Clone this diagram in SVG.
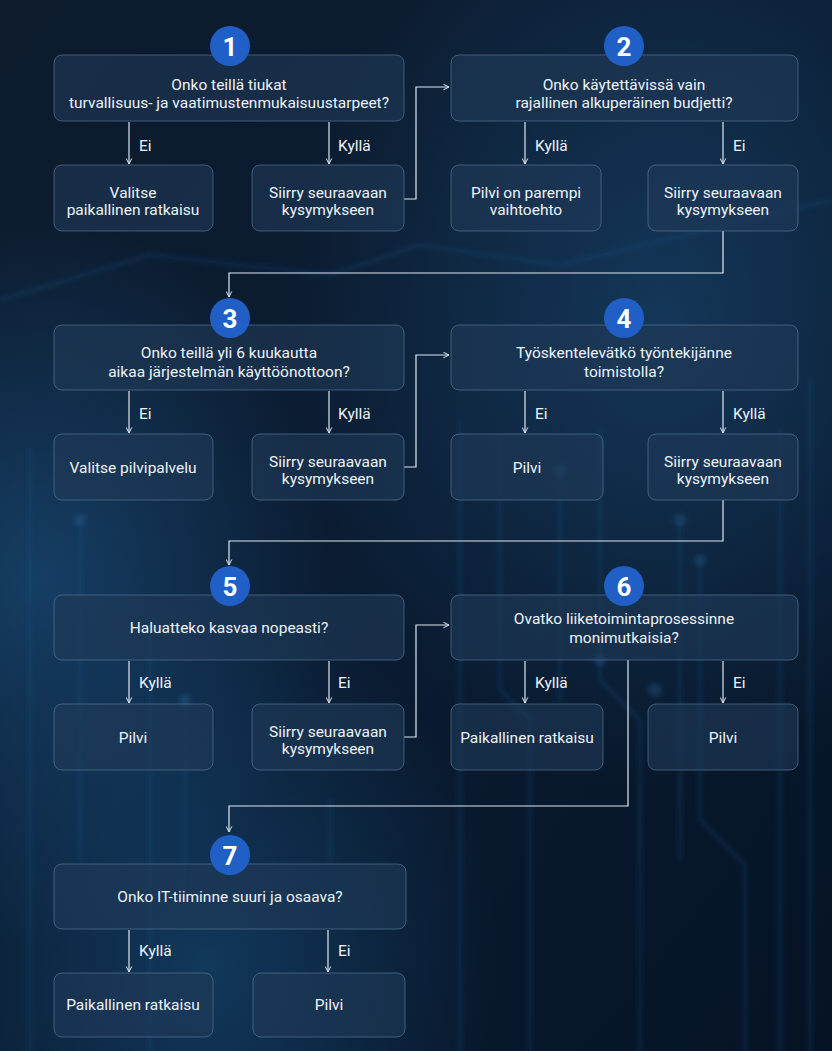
<svg xmlns="http://www.w3.org/2000/svg" width="832" height="1051" viewBox="0 0 832 1051">
<defs>
<linearGradient id="bg" x1="0" y1="0" x2="1" y2="1">
<stop offset="0" stop-color="#0d1b2d"/>
<stop offset="0.5" stop-color="#0a1c32"/>
<stop offset="1" stop-color="#061325"/>
</linearGradient>
<radialGradient id="glow1" cx="0.8" cy="0.3" r="0.45">
<stop offset="0" stop-color="#1d4d78" stop-opacity="0.55"/>
<stop offset="1" stop-color="#1d4d78" stop-opacity="0"/>
</radialGradient>
<radialGradient id="glow2" cx="0.05" cy="0.55" r="0.35">
<stop offset="0" stop-color="#1e5a8e" stop-opacity="0.55"/>
<stop offset="1" stop-color="#1e5a8e" stop-opacity="0"/>
</radialGradient>
<radialGradient id="glow3" cx="0.25" cy="0.92" r="0.35">
<stop offset="0" stop-color="#1a5586" stop-opacity="0.5"/>
<stop offset="1" stop-color="#1a5586" stop-opacity="0"/>
</radialGradient>
<filter id="blur" x="-10%" y="-10%" width="120%" height="120%">
<feGaussianBlur stdDeviation="2.5"/>
</filter>
<marker id="ah" viewBox="0 0 10 10" refX="9" refY="5" markerWidth="7" markerHeight="7" orient="auto-start-reverse" markerUnits="userSpaceOnUse">
<path d="M1,1 L9,5 L1,9" fill="none" stroke="#dfe8f2" stroke-width="1.4"/>
</marker>
<style>
.box{fill:#1f3a58;fill-opacity:0.6;stroke:#5a7898;stroke-opacity:0.65;stroke-width:1}
.t{font-family:Roboto,"Noto Sans",sans-serif;font-size:15.5px;fill:#eef3f8;text-anchor:middle}
.lbl{font-family:Roboto,"Noto Sans",sans-serif;font-size:15.5px;fill:#eef3f8}
.num{font-family:Roboto,"Noto Sans",sans-serif;font-size:26px;font-weight:bold;fill:#ffffff;text-anchor:middle}
.circ{fill:#1f5fc6}
.c{fill:none;stroke:#dfe8f2;stroke-width:1.2}
.deco{fill:none;stroke:#1f5282;stroke-opacity:0.28;stroke-width:4;stroke-linejoin:round;stroke-linecap:round}
.dot{fill:#2a6aa0;fill-opacity:0.3}
</style>
</defs>
<rect width="832" height="1051" fill="url(#bg)"/>
<rect width="832" height="1051" fill="url(#glow1)"/>
<rect width="832" height="1051" fill="url(#glow2)"/>
<rect width="832" height="1051" fill="url(#glow3)"/>
<g id="decor" filter="url(#blur)">
<path class="deco" d="M0,300 L150,255 L330,275 L420,245 L560,265 L832,200"/>
<path class="deco" d="M460,420 L460,1051 M500,440 L500,690 L530,720 L530,1051 M560,470 L560,700 M600,430 L600,680 L640,720 L640,1051 M680,520 L680,860 M700,560 L700,820 L745,865 L745,1051 M780,430 L780,1051 M810,380 L810,1051"/>
<path class="deco" d="M30,450 L30,1051 M80,520 L80,860 M150,620 L150,1051 M185,700 L185,900 M330,800 L330,860"/>
<circle class="dot" cx="560" cy="470" r="6"/>
<circle class="dot" cx="680" cy="520" r="6"/>
<circle class="dot" cx="700" cy="560" r="6"/>
<circle class="dot" cx="655" cy="690" r="7"/>
<circle class="dot" cx="600" cy="660" r="6"/>
<circle class="dot" cx="80" cy="520" r="6"/>
<circle class="dot" cx="185" cy="700" r="6"/>
</g>
<g id="connectors">
<line class="c" x1="129" y1="122" x2="129" y2="164" marker-end="url(#ah)"/>
<line class="c" x1="329" y1="122" x2="329" y2="164" marker-end="url(#ah)"/>
<line class="c" x1="525" y1="122" x2="525" y2="164" marker-end="url(#ah)"/>
<line class="c" x1="723" y1="122" x2="723" y2="164" marker-end="url(#ah)"/>
<polyline class="c" points="404,199 416,199 416,87 449,87" marker-end="url(#ah)"/>
<polyline class="c" points="723,231 723,273 229,273 229,297" marker-end="url(#ah)"/>
<line class="c" x1="129" y1="391" x2="129" y2="433" marker-end="url(#ah)"/>
<line class="c" x1="329" y1="391" x2="329" y2="433" marker-end="url(#ah)"/>
<line class="c" x1="525" y1="391" x2="525" y2="433" marker-end="url(#ah)"/>
<line class="c" x1="723" y1="391" x2="723" y2="433" marker-end="url(#ah)"/>
<polyline class="c" points="404,467 416,467 416,355 449,355" marker-end="url(#ah)"/>
<polyline class="c" points="723,500 723,541 229,541 229,565" marker-end="url(#ah)"/>
<line class="c" x1="129" y1="661" x2="129" y2="703" marker-end="url(#ah)"/>
<line class="c" x1="329" y1="661" x2="329" y2="703" marker-end="url(#ah)"/>
<line class="c" x1="525" y1="661" x2="525" y2="703" marker-end="url(#ah)"/>
<line class="c" x1="723" y1="661" x2="723" y2="703" marker-end="url(#ah)"/>
<polyline class="c" points="404,737 416,737 416,625 449,625" marker-end="url(#ah)"/>
<polyline class="c" points="628,660 628,806 229,806 229,832" marker-end="url(#ah)"/>
<line class="c" x1="129" y1="930" x2="129" y2="972" marker-end="url(#ah)"/>
<line class="c" x1="328" y1="930" x2="328" y2="972" marker-end="url(#ah)"/>
</g>
<g id="labels">
<text class="lbl" x="139" y="151">Ei</text>
<text class="lbl" x="338" y="151">Kyllä</text>
<text class="lbl" x="535" y="151">Kyllä</text>
<text class="lbl" x="733" y="151">Ei</text>
<text class="lbl" x="139" y="419">Ei</text>
<text class="lbl" x="338" y="419">Kyllä</text>
<text class="lbl" x="535" y="419">Ei</text>
<text class="lbl" x="733" y="419">Kyllä</text>
<text class="lbl" x="139" y="688">Kyllä</text>
<text class="lbl" x="338" y="688">Ei</text>
<text class="lbl" x="535" y="688">Kyllä</text>
<text class="lbl" x="733" y="688">Ei</text>
<text class="lbl" x="139" y="956">Kyllä</text>
<text class="lbl" x="338" y="956">Ei</text>
</g>
<g id="q1">
<rect class="box" x="54" y="55" width="350" height="66" rx="8"/>
<text class="t" x="229" y="90">Onko teillä tiukat</text>
<text class="t" x="229" y="108">turvallisuus- ja vaatimustenmukaisuustarpeet?</text>
<circle class="circ" cx="230" cy="46" r="20"/>
<text class="num" x="230" y="56">1</text>
</g>
<g id="a1no">
<rect class="box" x="54" y="165" width="159" height="66" rx="8"/>
<text class="t" x="133" y="198">Valitse</text>
<text class="t" x="133" y="215">paikallinen ratkaisu</text>
</g>
<g id="a1yes">
<rect class="box" x="252" y="165" width="152" height="66" rx="8"/>
<text class="t" x="328" y="198">Siirry seuraavaan</text>
<text class="t" x="328" y="215">kysymykseen</text>
</g>
<g id="q2">
<rect class="box" x="451" y="55" width="347" height="66" rx="8"/>
<text class="t" x="624" y="90">Onko käytettävissä vain</text>
<text class="t" x="624" y="108">rajallinen alkuperäinen budjetti?</text>
<circle class="circ" cx="624" cy="46" r="20"/>
<text class="num" x="624" y="56">2</text>
</g>
<g id="a2yes">
<rect class="box" x="451" y="165" width="150" height="66" rx="8"/>
<text class="t" x="526" y="198">Pilvi on parempi</text>
<text class="t" x="526" y="215">vaihtoehto</text>
</g>
<g id="a2no">
<rect class="box" x="648" y="165" width="150" height="66" rx="8"/>
<text class="t" x="723" y="198">Siirry seuraavaan</text>
<text class="t" x="723" y="215">kysymykseen</text>
</g>
<g id="q3">
<rect class="box" x="54" y="325" width="350" height="65" rx="8"/>
<text class="t" x="229" y="358">Onko teillä yli 6 kuukautta</text>
<text class="t" x="229" y="377">aikaa järjestelmän käyttöönottoon?</text>
<circle class="circ" cx="230" cy="318" r="20"/>
<text class="num" x="230" y="328">3</text>
</g>
<g id="a3no">
<rect class="box" x="54" y="434" width="159" height="66" rx="8"/>
<text class="t" x="133" y="473">Valitse pilvipalvelu</text>
</g>
<g id="a3yes">
<rect class="box" x="252" y="434" width="152" height="66" rx="8"/>
<text class="t" x="328" y="467">Siirry seuraavaan</text>
<text class="t" x="328" y="484">kysymykseen</text>
</g>
<g id="q4">
<rect class="box" x="451" y="325" width="347" height="65" rx="8"/>
<text class="t" x="624" y="358">Työskentelevätkö työntekijänne</text>
<text class="t" x="624" y="377">toimistolla?</text>
<circle class="circ" cx="624" cy="318" r="20"/>
<text class="num" x="624" y="328">4</text>
</g>
<g id="a4no">
<rect class="box" x="451" y="434" width="152" height="66" rx="8"/>
<text class="t" x="527" y="473">Pilvi</text>
</g>
<g id="a4yes">
<rect class="box" x="648" y="434" width="150" height="66" rx="8"/>
<text class="t" x="723" y="467">Siirry seuraavaan</text>
<text class="t" x="723" y="484">kysymykseen</text>
</g>
<g id="q5">
<rect class="box" x="54" y="595" width="350" height="65" rx="8"/>
<text class="t" x="229" y="633">Haluatteko kasvaa nopeasti?</text>
<circle class="circ" cx="230" cy="586" r="20"/>
<text class="num" x="230" y="596">5</text>
</g>
<g id="a5yes">
<rect class="box" x="54" y="704" width="159" height="66" rx="8"/>
<text class="t" x="133" y="743">Pilvi</text>
</g>
<g id="a5no">
<rect class="box" x="252" y="704" width="152" height="66" rx="8"/>
<text class="t" x="328" y="737">Siirry seuraavaan</text>
<text class="t" x="328" y="754">kysymykseen</text>
</g>
<g id="q6">
<rect class="box" x="451" y="595" width="347" height="65" rx="8"/>
<text class="t" x="624" y="624">Ovatko liiketoimintaprosessinne</text>
<text class="t" x="624" y="643">monimutkaisia?</text>
<circle class="circ" cx="624" cy="586" r="20"/>
<text class="num" x="624" y="596">6</text>
</g>
<g id="a6yes">
<rect class="box" x="451" y="704" width="152" height="66" rx="8"/>
<text class="t" x="527" y="743">Paikallinen ratkaisu</text>
</g>
<g id="a6no">
<rect class="box" x="648" y="704" width="150" height="66" rx="8"/>
<text class="t" x="723" y="743">Pilvi</text>
</g>
<g id="q7">
<rect class="box" x="54" y="864" width="352" height="65" rx="8"/>
<text class="t" x="230" y="902">Onko IT-tiiminne suuri ja osaava?</text>
<circle class="circ" cx="230" cy="855" r="20"/>
<text class="num" x="230" y="865">7</text>
</g>
<g id="a7yes">
<rect class="box" x="54" y="973" width="159" height="64" rx="8"/>
<text class="t" x="133" y="1010">Paikallinen ratkaisu</text>
</g>
<g id="a7no">
<rect class="box" x="253" y="973" width="152" height="64" rx="8"/>
<text class="t" x="329" y="1010">Pilvi</text>
</g>
</svg>
